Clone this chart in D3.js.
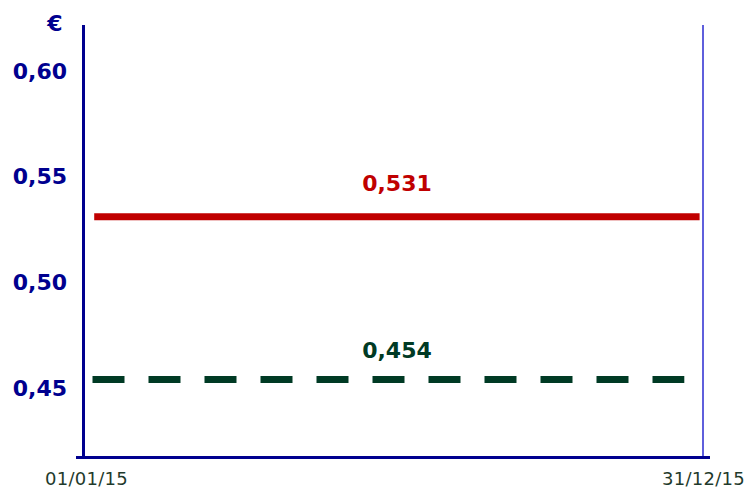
<!DOCTYPE html>
<html>
<head>
<meta charset="utf-8">
<script src="https://cdn.jsdelivr.net/npm/d3@7/dist/d3.min.js"></script>
<style>
  html, body { margin: 0; padding: 0; background: #ffffff; }
  svg { display: block; }
</style>
</head>
<body>
<svg id="chart" width="750" height="489"></svg>
<script>
// ---- data ----
const yTicks = [0.45, 0.50, 0.55, 0.60];
const xTickLabels = ["01/01/15", "31/12/15"];
const xDomain = ["2015-01-01", "2015-12-31"];
const seriesNames = ["red", "green"];
const seriesValues = [0.531, 0.454];
const seriesLabels = ["0,531", "0,454"];
const seriesStart = ["2015-01-07", "2015-01-06"];
const seriesEnd = ["2015-12-29", "2015-12-20"];
const unitLabel = "€";

// ---- layout ----
const svg = d3.select("#chart");
const parse = d3.timeParse("%Y-%m-%d");
const x = d3.scaleTime().domain(xDomain.map(parse)).range([84, 703]);
const y = d3.scaleLinear().domain([0.45, 0.60]).range([388, 71]);
const axisColor = "#00008f";
const colors = { red: "#c00000", green: "#003a24" };
const fmt = v => d3.format(".2f")(v).replace(".", ",");

// left y axis line
svg.append("line").attr("x1", 83.5).attr("x2", 83.5).attr("y1", 25).attr("y2", 458)
  .attr("stroke", axisColor).attr("stroke-width", 3);
// bottom axis line
svg.append("line").attr("x1", 76).attr("x2", 710).attr("y1", 457.5).attr("y2", 457.5)
  .attr("stroke", axisColor).attr("stroke-width", 3);
// right thin line
svg.append("line").attr("x1", x(parse(xDomain[1]))).attr("x2", x(parse(xDomain[1])))
  .attr("y1", 25).attr("y2", 456)
  .attr("stroke", "#2a2ad0").attr("stroke-width", 1.5);

// y tick labels via axis
const yAxis = d3.axisLeft(y).tickValues(yTicks).tickFormat(fmt).tickSize(0).tickPadding(0);
const gy = svg.append("g").attr("transform", "translate(67,0)").call(yAxis);
gy.select(".domain").remove();
gy.selectAll("text")
  .attr("fill", axisColor)
  .style("font-family", "'DejaVu Sans', Verdana, sans-serif")
  .style("font-weight", "bold")
  .style("font-size", "22px");

// unit
svg.append("text").attr("x", 55).attr("y", 31).attr("text-anchor", "middle")
  .attr("fill", axisColor)
  .style("font-family", "'DejaVu Sans', Verdana, sans-serif")
  .style("font-weight", "bold").style("font-size", "22px")
  .text(unitLabel);

// x tick labels
const xAxis = d3.axisBottom(x).tickValues(xDomain.map(parse))
  .tickFormat((d, i) => xTickLabels[i]).tickSize(0).tickPadding(0);
const gx = svg.append("g").attr("transform", "translate(0,472)").call(xAxis);
gx.select(".domain").remove();
gx.selectAll("text")
  .attr("fill", "#1f3a2c")
  .attr("dy", "0.71em")
  .style("font-family", "'DejaVu Sans', Verdana, sans-serif")
  .style("font-size", "18px")
  .style("letter-spacing", "0.3px");
gx.selectAll(".tick").filter((d, i) => i === 0).attr("transform", "translate(86.5,0)");

// series lines
const data = seriesNames.map((n, i) => ({
  name: n, value: seriesValues[i], label: seriesLabels[i],
  start: parse(seriesStart[i]), end: parse(seriesEnd[i])
}));

svg.selectAll("line.series").data(data).join("line")
  .attr("class", "series")
  .attr("x1", d => x(d.start)).attr("x2", d => x(d.end))
  .attr("y1", d => y(d.value)).attr("y2", d => y(d.value))
  .attr("stroke", d => colors[d.name])
  .attr("stroke-width", 7)
  .attr("stroke-dasharray", d => d.name === "green" ? "32 24" : null);

svg.selectAll("text.vlabel").data(data).join("text")
  .attr("class", "vlabel")
  .attr("x", 397)
  .attr("y", d => y(d.value) - (d.name === "green" ? 22 : 26))
  .attr("text-anchor", "middle")
  .attr("fill", d => colors[d.name])
  .style("font-family", "'DejaVu Sans', Verdana, sans-serif")
  .style("font-weight", "bold").style("font-size", "22px")
  .text(d => d.label);
</script>
</body>
</html>
